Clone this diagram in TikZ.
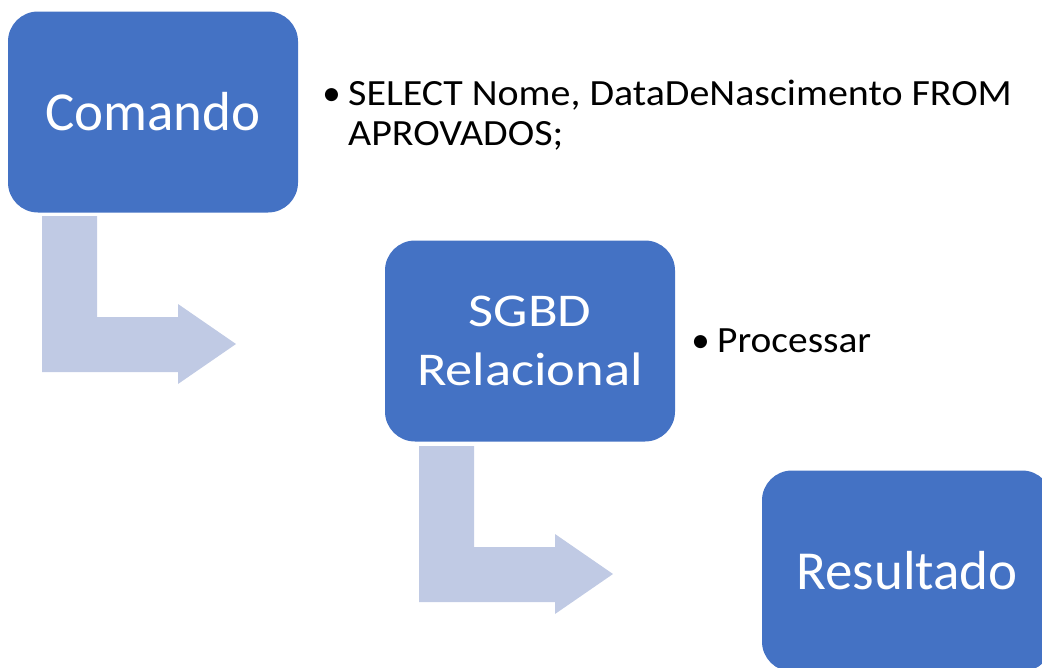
\documentclass[tikz,border=0pt]{standalone}
\usepackage{fontspec}
\setmainfont{Carlito}
\definecolor{boxblue}{RGB}{68,114,196}
\definecolor{arrowblue}{RGB}{192,202,228}
\newcommand{\stretchtext}[2]{\scalebox{#1}[1]{#2}}
\tikzset{
    stage/.style={rectangle, rounded corners=30pt, fill=boxblue, text=white, minimum width=290pt, minimum height=201pt, align=center, inner sep=0pt},
    bentarrow/.style={fill=arrowblue},
    note/.style={anchor=base west, align=left, inner sep=0pt, font=\fontsize{37}{41}\selectfont}
}

\begin{document}
\begin{tikzpicture}[x=1pt, y=-1pt]
    \useasboundingbox (0,0) rectangle (1042,667);
    \coordinate (A) at (153,112);
    \coordinate (B) at (530,341);
    \coordinate (C) at (907,571);
    \fill [bentarrow] (42,216) -- (97,216) -- (97,317) -- (178,317) -- (178,304) -- (236,344) -- (178,384) -- (178,372) -- (42,372) -- cycle;
    \fill [bentarrow, shift={(377,230)}] (42,216) -- (97,216) -- (97,317) -- (178,317) -- (178,304) -- (236,344) -- (178,384) -- (178,372) -- (42,372) -- cycle;
    \node [stage, font=\fontsize{55}{60}\selectfont] (Cmd) at (A) {Comando};
    \node [stage, font=\fontsize{47}{59}\selectfont] (SGBD) at (B) {\stretchtext{1.16}{SGBD}\\\stretchtext{1.16}{Relacional}};
    \node [stage, font=\fontsize{55}{60}\selectfont] (Res) at (C) {Resultado};
    \node [note] (Query) at (348,105) {\stretchtext{1.08}{SELECT Nome, DataDeNascimento FROM}};
    \node [note] (Query2) at (348,145) {\stretchtext{1.08}{APROVADOS;}};
    \node [note, anchor=base east] (QueryDot) at ([xshift=-7pt]Query.base west) {•};
    \node [note] (Proc) at (717,352) {\stretchtext{1.065}{Processar}};
    \node [note, anchor=base east] (ProcDot) at ([xshift=-7pt]Proc.base west) {•};
\end{tikzpicture}
\end{document}
